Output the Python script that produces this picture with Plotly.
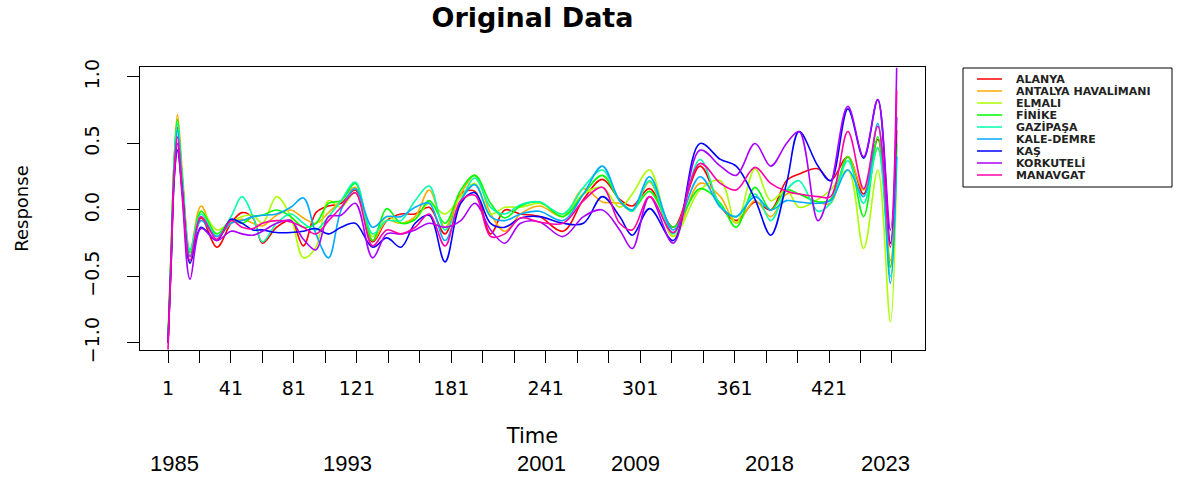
import plotly.graph_objects as go

# ---------------- data ----------------
t_index = [1, 3, 5, 7, 10, 15, 22, 32, 41, 48, 55, 61, 70, 79, 87, 95, 103, 111, 120, 131,
           140, 149, 158, 167, 177, 187, 196, 206, 215, 225, 237, 252, 265, 277, 288, 296, 307, 322,
           339, 352, 362, 374, 384, 394, 402, 414, 422, 433, 443, 452, 460, 464]

alanya = [-1.0, -0.35, 0.35, 0.62, 0.25, -0.35, -0.06, -0.28, -0.1, -0.02,
          -0.06, -0.25, -0.13, -0.08, -0.27, -0.02, 0.03, 0.05, 0.15, -0.24,
          -0.08, -0.03, -0.03, 0.02, -0.18, 0.12, 0.14, -0.18, 0.0, -0.03,
          -0.05, -0.16, 0.08, 0.23, 0.08, 0.03, 0.16, -0.13,
          0.33, 0.03, -0.08, 0.06, 0.0, 0.22, 0.27, 0.31, 0.22, 0.40, 0.12, 0.53, -0.43, 0.6]
antalya = [-1.0, -0.3, 0.4, 0.72, 0.3, -0.3, 0.03, -0.2, -0.1, -0.07,
           -0.1, -0.12, -0.04, 0.0, -0.06, -0.1, -0.02, 0.07, 0.17, -0.23,
           -0.08, -0.1, -0.05, 0.15, -0.13, 0.12, 0.26, -0.03, -0.16, -0.03,
           0.03, -0.05, 0.16, 0.06, 0.05, -0.01, 0.21, -0.2,
           0.2, 0.1, -0.1, 0.07, -0.05, 0.12, 0.12, 0.06, 0.05, 0.40, 0.15, 0.46, -0.38, 0.5]
elmali = [-1.0, -0.3, 0.35, 0.6, 0.2, -0.4, -0.01, -0.15, -0.09, -0.05,
          -0.04, -0.1, 0.1, -0.05, -0.36, -0.28, 0.07, 0.02, 0.13, -0.2,
          -0.05, -0.1, -0.07, 0.05, -0.03, 0.1, 0.2, -0.03, 0.02, 0.02,
          0.05, -0.03, 0.12, 0.17, 0.02, 0.12, 0.30, -0.2,
          0.15, 0.22, -0.1, 0.31, 0.07, 0.15, 0.02, 0.08, 0.15, 0.30, -0.29, 0.3, -0.84, 0.33]
finike = [-0.95, -0.3, 0.4, 0.68, 0.25, -0.32, -0.01, -0.18, -0.08, -0.1,
          -0.05, -0.04, 0.0, -0.05, -0.13, -0.1, 0.05, 0.07, 0.2, -0.23,
          0.01, -0.1, -0.07, 0.07, -0.1, 0.15, 0.26, 0.05, -0.06, 0.03,
          0.06, -0.05, 0.12, 0.26, 0.07, 0.0, 0.14, -0.13,
          0.16, 0.05, -0.13, 0.17, 0.0, 0.15, 0.12, 0.06, 0.08, 0.40, -0.05, 0.55, -0.43, 0.5]
gazipasa = [-1.0, -0.3, 0.38, 0.65, 0.25, -0.3, -0.03, -0.2, -0.05, 0.1,
            -0.05, -0.24, -0.1, -0.03, -0.1, -0.15, -0.05, 0.07, 0.21, -0.18,
            -0.08, -0.08, 0.07, 0.18, -0.15, 0.07, 0.24, 0.02, -0.03, 0.04,
            0.06, -0.03, 0.17, 0.30, 0.07, -0.01, 0.22, -0.18,
            0.38, 0.03, -0.05, 0.12, -0.08, 0.15, 0.22, -0.01, 0.05, 0.37, 0.05, 0.47, -0.5, 0.4]
kale_demre = [-1.0, -0.35, 0.3, 0.6, 0.2, -0.35, -0.08, -0.2, -0.1, -0.08,
              -0.05, -0.04, -0.03, 0.02, 0.09, -0.18, -0.36, 0.0, 0.16, -0.13,
              -0.05, -0.05, 0.02, 0.05, -0.23, 0.07, 0.19, -0.05, -0.08, -0.03,
              -0.01, -0.08, 0.12, 0.33, 0.07, 0.0, 0.25, -0.15,
              0.25, 0.02, -0.05, 0.1, 0.0, 0.07, 0.06, 0.05, 0.07, 0.3, 0.1, 0.65, -0.55, 0.4]
kas = [-1.0, -0.4, 0.25, 0.45, 0.15, -0.4, -0.13, -0.23, -0.07, -0.1,
       -0.15, -0.15, -0.17, -0.17, -0.16, -0.14, -0.18, -0.13, -0.1, -0.28,
       -0.21, -0.28, -0.1, -0.04, -0.39, 0.05, 0.13, -0.1, -0.13, -0.06,
       -0.05, -0.1, -0.1, 0.1, -0.05, -0.19, 0.01, -0.23,
       0.5, 0.38, 0.33, 0.08, -0.19, 0.2, 0.59, 0.33, 0.22, 0.76, 0.39, 0.83, -0.25, 0.7]
korkuteli = [-1.0, -0.4, 0.25, 0.5, 0.1, -0.52, -0.14, -0.23, -0.16, -0.18,
             -0.19, -0.16, -0.1, -0.08, -0.22, -0.3, -0.05, -0.04, 0.05, -0.36,
             -0.18, -0.18, -0.15, -0.1, -0.13, -0.08, 0.05, -0.15, -0.25, -0.1,
             -0.09, -0.2, -0.05, 0.0, -0.15, -0.29, 0.1, -0.25,
             0.45, 0.33, 0.26, 0.5, 0.33, 0.5, 0.59, -0.08, 0.17, 0.78, 0.4, 0.83, -0.15, 1.07]
manavgat = [-1.05, -0.35, 0.3, 0.55, 0.15, -0.38, -0.05, -0.22, -0.08, -0.13,
            -0.14, -0.1, -0.08, -0.09, -0.13, -0.18, -0.08, 0.02, 0.13, -0.27,
            -0.15, -0.18, -0.13, -0.03, -0.27, 0.07, 0.11, -0.2, -0.18, -0.06,
            -0.09, -0.1, 0.07, 0.17, -0.1, -0.15, 0.1, -0.17,
            0.35, 0.2, 0.15, 0.32, 0.2, 0.14, 0.12, 0.1, 0.1, 0.59, 0.16, 0.63, -0.28, 0.9]

station_names = ["ALANYA", "ANTALYA HAVALİMANI", "ELMALI", "FİNİKE", "GAZİPAŞA",
                 "KALE-DEMRE", "KAŞ", "KORKUTELİ", "MANAVGAT"]
series = [alanya, antalya, elmali, finike, gazipasa, kale_demre, kas, korkuteli, manavgat]
colors = ["#FF0000", "#FFAA00", "#AAFF00", "#00FF00", "#00FFAA",
          "#00AAFF", "#0000FF", "#AA00FF", "#FF00AA"]

x_tick_values = list(range(1, 462, 20))
x_tick_labeled = [1, 41, 81, 121, 181, 241, 301, 361, 421]
y_tick_values = [-1.0, -0.5, 0.0, 0.5, 1.0]

year_labels = ["1985", "1993", "2001", "2009", "2018", "2023"]
year_label_x = [5.4, 115.3, 238, 298, 383, 457]

# ---------------- figure ----------------
fig = go.Figure()
for name, vals, col in zip(station_names, series, colors):
    fig.add_trace(go.Scatter(x=t_index, y=vals, mode="lines", name=name,
                             line=dict(color=col, width=1.6, shape="spline", smoothing=1.0),
                             showlegend=False))

tick_font = dict(family="DejaVu Sans", size=19, color="black")

fig.update_layout(
    width=1179, height=479,
    paper_bgcolor="white", plot_bgcolor="white",
    margin=dict(l=140, r=254, t=67, b=129),
    title=dict(text="<b>Original Data</b>", x=532.5 / 1179, xanchor="center",
               y=1 - 18 / 479, yanchor="middle",
               font=dict(family="DejaVu Sans", size=27, color="black")),
    xaxis=dict(range=[-16.8, 482], tickmode="array", tickvals=x_tick_values,
               ticktext=[str(v) if v in x_tick_labeled else "" for v in x_tick_values],
               ticks="outside", ticklen=12, tickwidth=1, tickcolor="black",
               ticklabelstandoff=9, automargin=False,
               showline=True, linecolor="black", linewidth=1, mirror=True,
               showgrid=False, zeroline=False, tickfont=tick_font,
               title=dict(text="Time", standoff=30,
                          font=dict(family="DejaVu Sans", size=21, color="black"))),
    yaxis=dict(range=[-1.053, 1.075], tickmode="array", tickvals=y_tick_values,
               tickformat=".1f", tickangle=-90,
               ticks="outside", ticklen=12, tickwidth=1, tickcolor="black",
               ticklabelstandoff=20, automargin=False,
               showline=True, linecolor="black", linewidth=1, mirror=True,
               showgrid=False, zeroline=False, tickfont=tick_font,
               title=dict(text="Response", standoff=48,
                          font=dict(family="DejaVu Sans", size=18, color="black"))),
)

# legend drawn as a box with line samples and labels
plot_w = 785.0
plot_h = 283.0
def px_to_paper_x(px):
    return (px - 140) / plot_w
def px_to_paper_y(py):
    return (350 - py) / plot_h

fig.add_shape(type="rect", xref="paper", yref="paper",
              x0=px_to_paper_x(963), x1=px_to_paper_x(1172),
              y0=px_to_paper_y(187), y1=px_to_paper_y(68),
              line=dict(color="black", width=1), fillcolor="white")
for k, (name, col) in enumerate(zip(station_names, colors)):
    yy = px_to_paper_y(79 + 12.0 * k)
    fig.add_shape(type="line", xref="paper", yref="paper",
                  x0=px_to_paper_x(977), x1=px_to_paper_x(1002), y0=yy, y1=yy,
                  line=dict(color=col, width=1.5))
    fig.add_annotation(xref="paper", yref="paper", x=px_to_paper_x(1014), y=yy,
                       xanchor="left", yanchor="middle", showarrow=False,
                       text="<b>" + name + "</b>", height=12, valign="middle",
                       font=dict(family="DejaVu Sans", size=11, color="#222222"))

for lab, xv in zip(year_labels, year_label_x):
    fig.add_annotation(xref="x", yref="paper", x=xv, y=px_to_paper_y(463),
                       xanchor="center", yanchor="middle", showarrow=False, text=lab,
                       font=dict(family="Liberation Sans", size=22, color="black"))

fig.write_html("out.html", config={"displayModeBar": False},
               post_script="document.body.style.margin='0px';")
